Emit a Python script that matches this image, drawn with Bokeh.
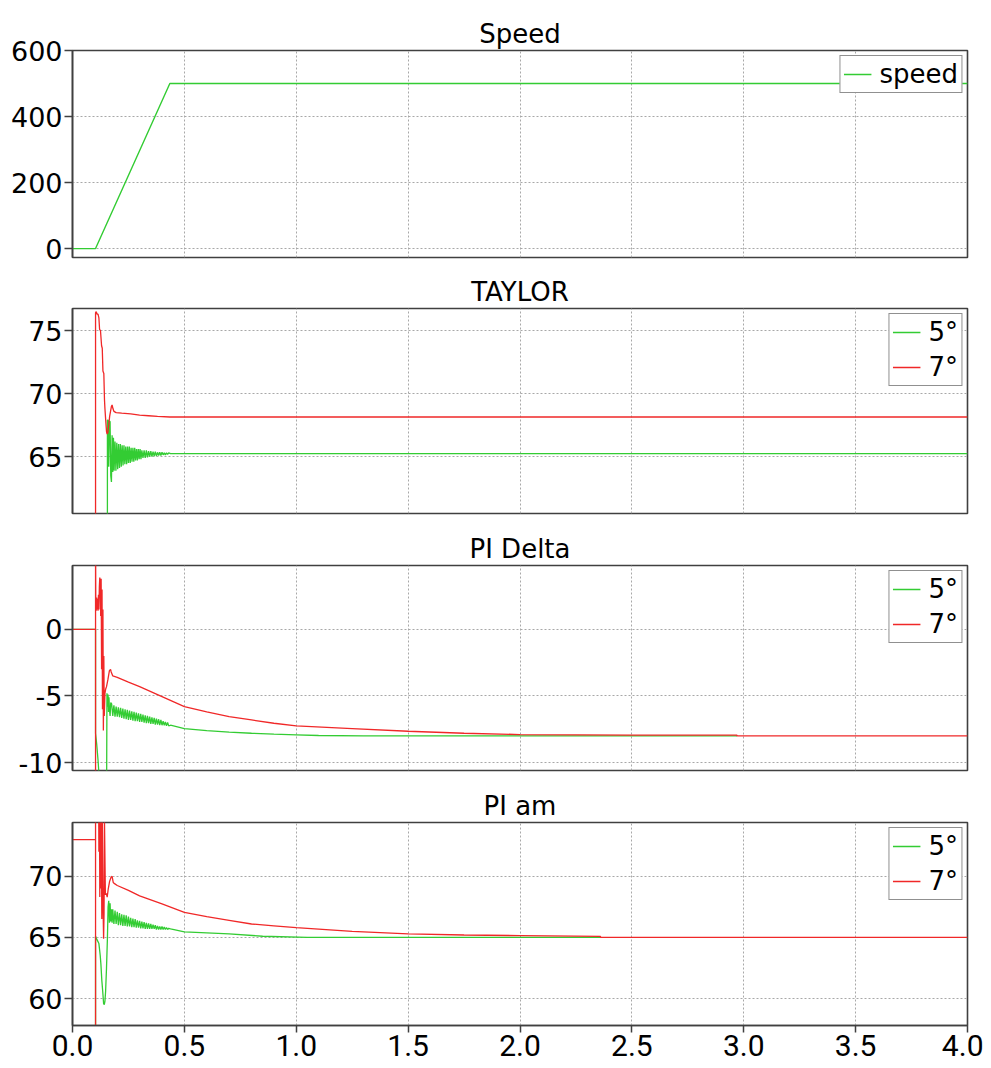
from bokeh.plotting import figure
from bokeh.layouts import column
from bokeh.models import Range1d, FixedTicker, Legend, LegendItem
from bokeh.embed import file_html
from bokeh.resources import INLINE

# ---------------- data ----------------
x_ticks = [0.0, 0.5, 1.0, 1.5, 2.0, 2.5, 3.0, 3.5, 4.0]
x_labels = ["0.0", "0.5", "1.0", "1.5", "2.0", "2.5", "3.0", "3.5", "4.0"]

speed_t = [0.0, 0.103, 0.435, 4.0]
speed_v = [0, 0, 500, 500]

taylor_7 = [(0.0, 0.0), (0.103, 0.0), (0.103, 76.4), (0.106, 76.5), (0.110, 76.3), (0.114, 76.3),
            (0.118, 76.0), (0.121, 75.1), (0.125, 75.0), (0.130, 73.8), (0.133, 73.6), (0.136, 71.8),
            (0.140, 71.6), (0.143, 69.5), (0.145, 68.8), (0.148, 68.0), (0.152, 67.0), (0.155, 66.8),
            (0.158, 66.9), (0.162, 67.5), (0.166, 68.2), (0.170, 68.6), (0.174, 69.0), (0.177, 69.1),
            (0.181, 68.8), (0.185, 68.6), (0.195, 68.5), (0.22, 68.45), (0.26, 68.4), (0.30, 68.3),
            (0.34, 68.25), (0.38, 68.2), (0.435, 68.15), (4.0, 68.15)]

taylor_5 = [(0.0, 0.0), (0.156, 0.0), (0.156, 67.9), (0.160, 67.9), (0.162, 64.2), (0.165, 67.8),
            (0.168, 67.8), (0.171, 63.5), (0.174, 63.0), (0.177, 66.7), (0.180, 63.8), (0.183, 66.5),
            (0.186, 63.9), (0.190, 66.2), (0.194, 63.9), (0.198, 66.1), (0.202, 64.0), (0.206, 66.0),
            (0.210, 64.1), (0.214, 66.0), (0.218, 64.2), (0.222, 65.9), (0.226, 64.3), (0.230, 65.9),
            (0.234, 64.4), (0.238, 65.8), (0.242, 64.4), (0.246, 65.8), (0.250, 64.5), (0.254, 65.8),
            (0.258, 64.5), (0.262, 65.7), (0.266, 64.6), (0.270, 65.7), (0.274, 64.6), (0.278, 65.7),
            (0.282, 64.7), (0.286, 65.6), (0.290, 64.7), (0.294, 65.6), (0.298, 64.8), (0.302, 65.6),
            (0.306, 64.8), (0.310, 65.5), (0.315, 64.9), (0.320, 65.5), (0.325, 64.9), (0.330, 65.5),
            (0.335, 64.95), (0.340, 65.45), (0.345, 65.0), (0.350, 65.45), (0.355, 65.0), (0.360, 65.4),
            (0.365, 65.05), (0.370, 65.4), (0.375, 65.05), (0.380, 65.35), (0.385, 65.1), (0.390, 65.35),
            (0.395, 65.1), (0.400, 65.35), (0.405, 65.15), (0.410, 65.3), (0.415, 65.15), (0.420, 65.3),
            (0.425, 65.2), (0.430, 65.3), (0.438, 65.25), (4.0, 65.25)]

pidelta_7 = [(0.0, 0.0), (0.103, 0.0), (0.103, -20.0), (0.103, 8.0), (0.104, 2.4), (0.106, 1.4),
             (0.108, 2.4), (0.110, 1.5), (0.112, 2.3), (0.114, 1.4), (0.116, 2.6), (0.118, 1.5),
             (0.120, 3.2), (0.122, 3.9), (0.124, 3.6), (0.126, 1.0), (0.128, 3.8), (0.130, -3.0),
             (0.132, 3.0), (0.134, -6.0), (0.136, 1.5), (0.138, -7.6), (0.140, -2.0), (0.142, -6.5),
             (0.145, -4.8), (0.148, -4.5), (0.152, -4.3), (0.158, -3.8), (0.165, -3.1), (0.170, -3.0),
             (0.173, -3.2), (0.180, -3.5), (0.20, -3.6), (0.25, -3.96), (0.30, -4.3), (0.40, -5.05),
             (0.50, -5.8), (0.60, -6.2), (0.70, -6.55), (0.80, -6.8), (0.90, -7.05), (1.00, -7.25),
             (1.25, -7.45), (1.50, -7.65), (1.75, -7.8), (2.00, -7.9), (2.50, -7.95), (2.97, -7.95),
             (2.97, -8.0), (4.0, -8.0)]

pidelta_5 = [(0.0, 0.0), (0.103, 0.0), (0.103, -7.8), (0.108, -8.6), (0.114, -9.8), (0.118, -10.8),
             (0.125, -14.0), (0.152, -14.0), (0.154, -4.8), (0.157, -5.8), (0.159, -4.9), (0.161, -6.2),
             (0.163, -5.1), (0.165, -6.0), (0.168, -6.5), (0.171, -5.5), (0.175, -5.6), (0.180, -6.5),
             (0.185, -5.7), (0.190, -6.55), (0.195, -5.8), (0.200, -6.55), (0.205, -5.85), (0.210, -6.6),
             (0.215, -5.9), (0.220, -6.65), (0.225, -5.95), (0.230, -6.7), (0.235, -6.0), (0.240, -6.75),
             (0.245, -6.05), (0.250, -6.8), (0.255, -6.1), (0.260, -6.8), (0.265, -6.15), (0.270, -6.85),
             (0.275, -6.2), (0.280, -6.9), (0.285, -6.25), (0.290, -6.9), (0.295, -6.3), (0.300, -6.95),
             (0.305, -6.35), (0.310, -6.95), (0.315, -6.4), (0.320, -7.0), (0.325, -6.45), (0.330, -7.05),
             (0.335, -6.5), (0.340, -7.05), (0.345, -6.55), (0.350, -7.1), (0.355, -6.6), (0.360, -7.1),
             (0.365, -6.65), (0.370, -7.15), (0.375, -6.7), (0.380, -7.15), (0.385, -6.75), (0.390, -7.2),
             (0.395, -6.8), (0.400, -7.2), (0.405, -6.9), (0.410, -7.2), (0.415, -6.95), (0.420, -7.25),
             (0.425, -7.0), (0.430, -7.25), (0.438, -7.2), (0.50, -7.45), (0.60, -7.6), (0.70, -7.72),
             (0.80, -7.8), (0.90, -7.87), (1.00, -7.92), (1.10, -7.97), (1.30, -8.0), (2.97, -8.0)]

piam_7 = [(0.0, 73.0), (0.103, 73.0), (0.103, 50.0), (0.103, 80.0), (0.110, 80.0), (0.114, 76.0),
          (0.116, 80.0), (0.118, 72.0), (0.120, 80.0), (0.122, 68.3), (0.124, 80.0), (0.126, 69.0),
          (0.128, 78.0), (0.131, 66.5), (0.133, 76.0), (0.136, 68.0), (0.139, 64.9), (0.141, 67.0),
          (0.143, 74.5), (0.147, 68.5), (0.151, 68.6), (0.155, 68.3), (0.160, 69.0), (0.166, 69.6),
          (0.172, 69.9), (0.177, 70.0), (0.182, 69.5), (0.188, 69.4), (0.20, 69.25), (0.25, 68.85),
          (0.30, 68.4), (0.40, 67.75), (0.50, 67.05), (0.60, 66.7), (0.70, 66.4), (0.80, 66.1),
          (0.90, 65.95), (1.00, 65.8), (1.25, 65.5), (1.50, 65.3), (1.75, 65.2), (2.00, 65.15),
          (2.36, 65.08), (2.36, 65.0), (4.0, 65.0)]

piam_5 = [(0.0, 0.0), (0.103, 0.0), (0.103, 65.1), (0.110, 64.8), (0.118, 64.5), (0.124, 63.5),
          (0.127, 62.8), (0.131, 61.5), (0.135, 60.6), (0.139, 59.6), (0.142, 59.5), (0.145, 59.8),
          (0.148, 60.6), (0.152, 62.5), (0.156, 64.9), (0.159, 67.5), (0.162, 68.0), (0.165, 66.2),
          (0.168, 67.8), (0.171, 66.3), (0.174, 67.3), (0.177, 66.2), (0.180, 67.3), (0.185, 66.1),
          (0.190, 67.2), (0.195, 66.1), (0.200, 67.1), (0.205, 66.0), (0.210, 67.0), (0.215, 66.0),
          (0.220, 66.9), (0.225, 65.95), (0.230, 66.85), (0.235, 65.95), (0.240, 66.8), (0.245, 65.9),
          (0.250, 66.7), (0.255, 65.9), (0.260, 66.6), (0.265, 65.85), (0.270, 66.55), (0.275, 65.85),
          (0.280, 66.5), (0.285, 65.8), (0.290, 66.4), (0.295, 65.8), (0.300, 66.35), (0.305, 65.75),
          (0.310, 66.3), (0.315, 65.75), (0.320, 66.25), (0.325, 65.7), (0.330, 66.2), (0.335, 65.7),
          (0.340, 66.15), (0.345, 65.7), (0.350, 66.1), (0.355, 65.7), (0.360, 66.05), (0.365, 65.7),
          (0.370, 66.0), (0.375, 65.65), (0.380, 65.95), (0.385, 65.65), (0.390, 65.9), (0.395, 65.65),
          (0.400, 65.9), (0.405, 65.65), (0.410, 65.85), (0.415, 65.65), (0.420, 65.8), (0.425, 65.65),
          (0.430, 65.75), (0.438, 65.7), (0.50, 65.45), (0.60, 65.38), (0.70, 65.3), (0.85, 65.1),
          (1.05, 65.0), (2.36, 65.0)]

GREEN = "#33cc33"
RED = "#f02828"
FRAME = "#404040"


def unzip(pairs):
    return [a for a, _ in pairs], [b for _, b in pairs]


def make(title, yr, yticks, ylabels, h, top, bottom, show_x):
    p = figure(width=983, height=h, output_backend="svg", toolbar_location=None,
               x_range=Range1d(0, 4), y_range=Range1d(*yr),
               min_border_left=72, min_border_right=16,
               min_border_top=top, min_border_bottom=bottom)
    p.title.text = title
    p.title.align = "center"
    p.title.text_font = "DejaVu Sans"
    p.title.text_font_size = "26px"
    p.title.text_font_style = "normal"
    p.title.text_color = "black"
    p.title.standoff = 3
    p.outline_line_color = FRAME
    p.outline_line_width = 1.6
    p.outline_line_alpha = 1
    p.background_fill_color = "white"

    p.yaxis.ticker = FixedTicker(ticks=yticks)
    p.yaxis.major_label_overrides = dict(zip(yticks, ylabels))
    p.yaxis.major_label_text_font = "DejaVu Sans"
    p.yaxis.major_label_text_font_size = "27px"
    p.yaxis.major_label_text_color = "black"
    p.yaxis.major_label_standoff = 2
    p.yaxis.major_tick_in = 0
    p.yaxis.major_tick_out = 8
    p.yaxis.minor_tick_line_color = None
    p.yaxis.axis_line_color = FRAME
    p.yaxis.axis_line_width = 1.6
    p.yaxis.major_tick_line_color = FRAME
    p.yaxis.major_tick_line_width = 1.5

    p.xaxis.ticker = FixedTicker(ticks=x_ticks)
    p.xgrid.ticker = FixedTicker(ticks=x_ticks)
    p.ygrid.ticker = FixedTicker(ticks=yticks)
    if show_x:
        p.xaxis.major_label_overrides = dict(zip(x_ticks, x_labels))
        p.xaxis.major_label_text_font = "Roboto"
        p.xaxis.major_label_text_font_size = "30px"
        p.xaxis.major_label_text_color = "black"
        p.xaxis.major_label_standoff = 2
        p.xaxis.major_tick_in = 0
        p.xaxis.major_tick_out = 7
        p.xaxis.minor_tick_line_color = None
        p.xaxis.axis_line_color = FRAME
        p.xaxis.axis_line_width = 1.6
        p.xaxis.major_tick_line_color = FRAME
        p.xaxis.major_tick_line_width = 1.5
    else:
        p.xaxis.visible = False

    for g in (p.xgrid, p.ygrid):
        g.grid_line_color = "#a8a8a8"
        g.grid_line_dash = "2 2"
        g.grid_line_width = 1
    return p


def style_legend(p, items):
    leg = Legend(items=items, location="top_right")
    leg.label_text_font = "DejaVu Sans"
    leg.label_text_font_size = "26px"
    leg.label_text_color = "black"
    leg.glyph_width = 28
    leg.glyph_height = 24
    leg.label_height = 30
    leg.label_standoff = 8
    leg.padding = 3
    leg.spacing = 5
    leg.margin = 5
    leg.border_line_color = "#222222"
    leg.border_line_width = 1.5
    leg.background_fill_alpha = 1
    p.add_layout(leg)


# Speed
p1 = make("Speed", (-27, 600), [0, 200, 400, 600], ["0", "200", "400", "600"], 267, 50, 10, False)
r = p1.line(speed_t, speed_v, line_color=GREEN, line_width=1.4)
style_legend(p1, [LegendItem(label="speed", renderers=[r])])

# TAYLOR
p2 = make("TAYLOR", (60.5, 76.75), [65, 70, 75], ["65", "70", "75"], 257, 41, 11, False)
t5, v5 = unzip(taylor_5)
t7, v7 = unzip(taylor_7)
g = p2.line(t5, v5, line_color=GREEN, line_width=1.3)
rr = p2.line(t7, v7, line_color=RED, line_width=1.3)
style_legend(p2, [LegendItem(label="5°", renderers=[g]), LegendItem(label="7°", renderers=[rr])])

# PI Delta
p3 = make("PI Delta", (-10.6, 4.8), [-10, -5, 0], ["-10", "-5", "0"], 257, 41, 11, False)
t5, v5 = unzip(pidelta_5)
t7, v7 = unzip(pidelta_7)
g = p3.line(t5, v5, line_color=GREEN, line_width=1.3)
rr = p3.line(t7, v7, line_color=RED, line_width=1.3)
style_legend(p3, [LegendItem(label="5°", renderers=[g]), LegendItem(label="7°", renderers=[rr])])

# PI am
p4 = make("PI am", (57.8, 74.4), [60, 65, 70], ["60", "65", "70"], 284, 41, 40, True)
t5, v5 = unzip(piam_5)
t7, v7 = unzip(piam_7)
g = p4.line(t5, v5, line_color=GREEN, line_width=1.3)
rr = p4.line(t7, v7, line_color=RED, line_width=1.3)
style_legend(p4, [LegendItem(label="5°", renderers=[g]), LegendItem(label="7°", renderers=[rr])])

layout = column(p1, p2, p3, p4, spacing=0)
open("out.html", "w").write(file_html(layout, INLINE))
